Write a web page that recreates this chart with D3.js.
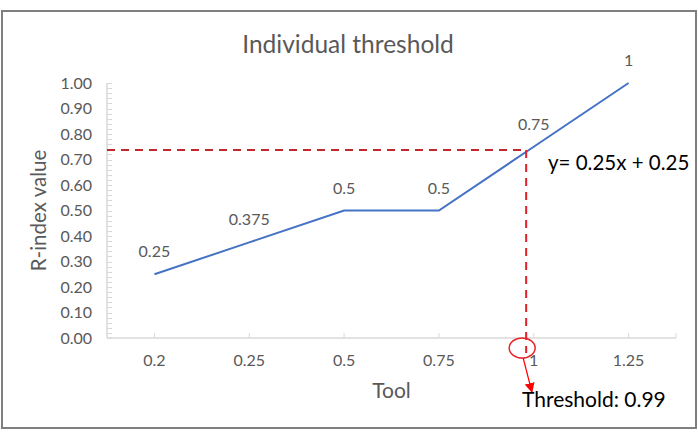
<!DOCTYPE html>
<html><head><meta charset="utf-8">
<script src="https://cdn.jsdelivr.net/npm/d3@7"></script>
<style>
html,body{margin:0;padding:0;background:#fff;}
svg{display:block;font-family:Lato, "Open Sans", sans-serif;}
</style></head>
<body><svg id="c" width="698" height="441"></svg>
<script>
const categories = ["0.2","0.25","0.5","0.75","1","1.25"];
const rValues = [0.25,0.375,0.5,0.5,0.75,1];
const dataLabels = ["0.25","0.375","0.5","0.5","0.75","1"];
const yTicks = [0,0.1,0.2,0.3,0.4,0.5,0.6,0.7,0.8,0.9,1.0];
const thresholdIndex = 3.92;   // position along the category axis
const thresholdR = 0.737;
const titleText = "Individual threshold";
const equationText = "y= 0.25x + 0.25";
const thresholdText = "Threshold: 0.99";

(function(){
const svg = d3.select("#c");
const pLeft = 107, pRight = 676, pTop = 83, pBottom = 338;

svg.append("rect").attr("x",2).attr("y",11).attr("width",694).attr("height",417)
  .attr("fill","#fff").attr("stroke","#7f7f7f").attr("stroke-width",2);

const x = d3.scaleBand().domain(categories).range([pLeft,pRight]);
const xc = c => x(c) + x.bandwidth()/2;
const y = d3.scaleLinear().domain([0,1]).range([pBottom,pTop]);

// y axis with minor ticks
const minor = d3.range(0,51).map(i=>i*0.02);
svg.append("line").attr("x1",pLeft).attr("x2",pLeft).attr("y1",y(1)).attr("y2",y(0))
  .attr("stroke","#d9d9d9").attr("stroke-width",1.5);
svg.selectAll(".mt").data(minor).join("line")
  .attr("x1",pLeft).attr("x2",pLeft+5).attr("y1",d=>Math.round(y(d))+0.5).attr("y2",d=>Math.round(y(d))+0.5)
  .attr("stroke","#d9d9d9").attr("stroke-width",1);
svg.selectAll(".yl").data(yTicks).join("text")
  .attr("x",92).attr("y",d=>y(d)).attr("dy","0.35em").attr("text-anchor","end")
  .attr("font-size",16).attr("fill","#595959").text(d=>d.toFixed(2));

// x axis
svg.append("line").attr("x1",pLeft).attr("x2",pRight).attr("y1",pBottom).attr("y2",pBottom)
  .attr("stroke","#d9d9d9").attr("stroke-width",1.5);
const xt = categories.map(xc).concat([pRight]);
svg.selectAll(".xt").data(xt).join("line")
  .attr("x1",d=>d).attr("x2",d=>d).attr("y1",pBottom).attr("y2",pBottom-5)
  .attr("stroke","#d9d9d9").attr("stroke-width",1);
svg.selectAll(".xl").data(categories).join("text")
  .attr("x",d=>xc(d)).attr("y",366).attr("text-anchor","middle")
  .attr("font-size",16).attr("fill","#595959").text(d=>d);

// titles
svg.append("text").attr("x",348).attr("y",53).attr("text-anchor","middle")
  .attr("font-size",24.5).attr("fill","#595959").text(titleText);
svg.append("text").attr("x",(pLeft+pRight)/2).attr("y",398).attr("text-anchor","middle")
  .attr("font-size",21).attr("fill","#595959").text("Tool");
svg.append("text").attr("transform",`translate(46,${(pTop+pBottom)/2}) rotate(-90)`)
  .attr("text-anchor","middle").attr("font-size",20.5).attr("fill","#595959").text("R-index value");

// line
const line = d3.line().x((d,i)=>xc(categories[i])).y(d=>y(d));
svg.append("path").datum(rValues).attr("d",line).attr("fill","none")
  .attr("stroke","#4472c4").attr("stroke-width",2);
svg.selectAll(".dl").data(rValues).join("text")
  .attr("x",(d,i)=>xc(categories[i])).attr("y",d=>y(d)-17).attr("text-anchor","middle")
  .attr("font-size",16).attr("fill","#595959").text((d,i)=>dataLabels[i]);

// threshold annotation
const step = x.step();
const tx = xc(categories[0]) + thresholdIndex*step;
const ty = y(thresholdR);
svg.append("line").attr("x1",pLeft).attr("x2",tx).attr("y1",ty).attr("y2",ty)
  .attr("stroke","#c0282d").attr("stroke-width",2).attr("stroke-dasharray","8,6");
svg.append("line").attr("x1",tx).attr("x2",tx).attr("y1",ty).attr("y2",pBottom+15)
  .attr("stroke","#e0202a").attr("stroke-width",2).attr("stroke-dasharray","8,6");
svg.append("ellipse").attr("cx",tx-4).attr("cy",pBottom+10).attr("rx",13).attr("ry",10)
  .attr("fill","none").attr("stroke","#e8262b").attr("stroke-width",1.5);
svg.append("defs").append("marker").attr("id","ah").attr("viewBox","0 0 10 10")
  .attr("refX",10).attr("refY",5).attr("markerWidth",10).attr("markerHeight",10)
  .attr("markerUnits","userSpaceOnUse").attr("orient","auto")
  .append("path").attr("d","M0,0L10,5L0,10Z").attr("fill","#ff0000");
svg.append("line").attr("x1",tx-3).attr("y1",pBottom+20).attr("x2",tx+6).attr("y2",pBottom+55)
  .attr("stroke","#ff0000").attr("stroke-width",1.2).attr("marker-end","url(#ah)");

svg.append("text").attr("x",548).attr("y",170).attr("font-size",20.5).attr("fill","#000").text(equationText);
svg.append("text").attr("x",522).attr("y",407).attr("font-size",21).attr("fill","#000").text(thresholdText);
})();
</script></body></html>
